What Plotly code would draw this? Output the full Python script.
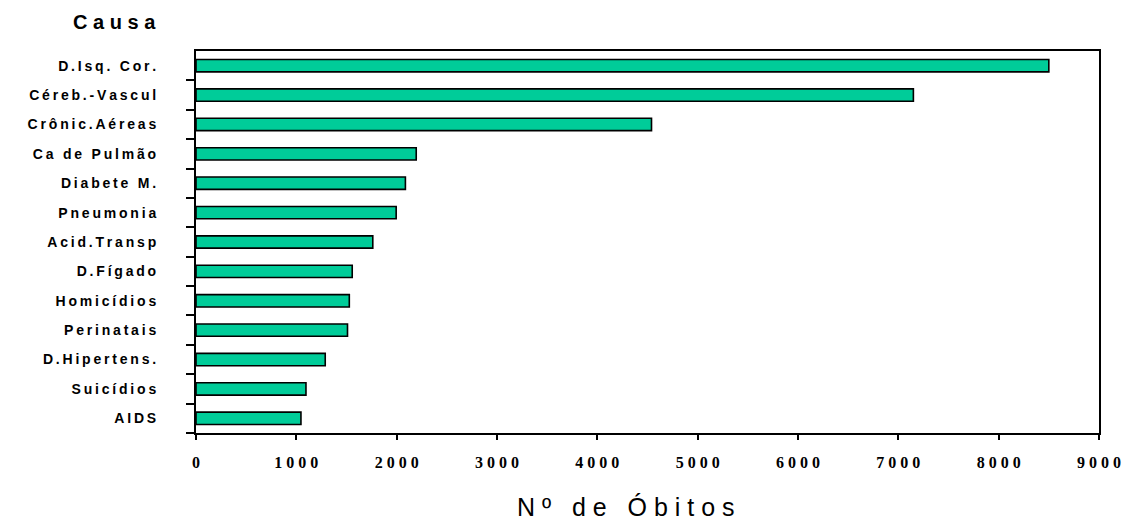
import plotly.graph_objects as go

categories = ["D.Isq. Cor.", "Céreb.-Vascul", "Crônic.Aéreas", "Ca de Pulmão", "Diabete M.",
              "Pneumonia", "Acid.Transp", "D.Fígado", "Homicídios", "Perinatais",
              "D.Hipertens.", "Suicídios", "AIDS"]
obitos = [8500, 7150, 4540, 2195, 2087, 1995, 1762, 1557, 1528, 1510, 1288, 1096, 1046]
x_ticks = [0, 1000, 2000, 3000, 4000, 5000, 6000, 7000, 8000, 9000]
y_title = "Causa"
x_title = "Nº de Óbitos"

THIN = "\u2009"


def spaced(s, sep=THIN):
    return sep.join(list(s))


fig = go.Figure()
fig.add_trace(go.Bar(
    y=categories,
    x=obitos,
    orientation="h",
    width=0.42,
    marker=dict(color="#00CC99", line=dict(color="#000000", width=1.6)),
    hoverinfo="x+y",
))

fig.update_layout(
    width=1123,
    height=520,
    autosize=False,
    margin=dict(l=196, r=24, t=51, b=87, pad=0, autoexpand=False),
    paper_bgcolor="white",
    plot_bgcolor="white",
    showlegend=False,
)

fig.update_xaxes(
    range=[0, 9000],
    tickvals=x_ticks,
    ticktext=[spaced(str(v), " ") for v in x_ticks],
    tickfont=dict(family="Liberation Serif", size=16, color="black", weight="bold"),
    ticks="outside",
    ticklen=5,
    tickwidth=2,
    tickcolor="black",
    ticklabelstandoff=9,
    showline=True,
    linecolor="black",
    linewidth=2,
    mirror=True,
    showgrid=False,
    zeroline=False,
    automargin=False,
    fixedrange=True,
)

fig.update_yaxes(
    categoryorder="array",
    categoryarray=categories[::-1],
    tickmode="array",
    tickvals=categories,
    ticktext=[spaced(c) for c in categories],
    tickfont=dict(family="Liberation Sans", size=14, color="black", weight="bold"),
    ticks="outside",
    tickson="boundaries",
    ticklen=8,
    tickwidth=1.5,
    tickcolor="black",
    ticklabelstandoff=35,
    showline=True,
    linecolor="black",
    linewidth=2,
    mirror=True,
    showgrid=False,
    zeroline=False,
    automargin=False,
    fixedrange=True,
)

fig.add_annotation(
    text=spaced(y_title, " "),
    xref="paper", yref="paper",
    x=-0.0908, y=1.075,
    xanchor="center", yanchor="middle",
    showarrow=False,
    font=dict(family="Liberation Sans", size=20, color="black", weight="bold"),
)

fig.add_annotation(
    text=spaced(x_title, " "),
    xref="paper", yref="paper",
    x=0.4765, y=-0.195,
    xanchor="center", yanchor="middle",
    showarrow=False,
    font=dict(family="Liberation Sans", size=25, color="black"),
)

fig.write_html("out.html")
